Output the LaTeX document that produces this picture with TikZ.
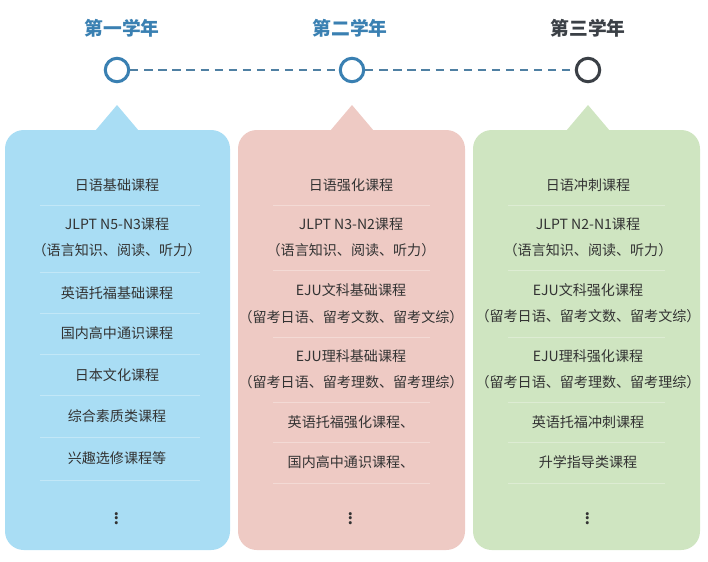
\documentclass[tikz,border=0pt]{standalone}
\usepackage{fontspec}
\setmainfont{Noto Sans CJK SC}
\usetikzlibrary{positioning}
\definecolor{yearblue}{HTML}{3A80B2}
\definecolor{yeardark}{HTML}{3B4046}
\definecolor{panelblue}{HTML}{A9DDF4}
\definecolor{panelpink}{HTML}{EECAC4}
\definecolor{panelgreen}{HTML}{CFE5C1}
\definecolor{itemtext}{HTML}{333333}

\begin{document}
\begin{tikzpicture}[x=0.03cm,y=-0.03cm]
			\tikzstyle{Year}	= [font=\fontsize{16}{18}\selectfont\bfseries, inner sep=0pt]
			\tikzstyle{Dot}		= [circle, draw, line width=2.6pt, fill=white, minimum size=20pt, inner sep=0pt]
			\tikzstyle{Item}	= [font=\fontsize{12}{14}\selectfont, text=itemtext, inner sep=0pt]
			\tikzstyle{More}	= [font=\fontsize{20}{22}\selectfont, text=itemtext, inner sep=0pt]
			\tikzstyle{Sep}		= [white, opacity=0.3, line width=0.6pt]

			\useasboundingbox (0,0) rectangle (708,561);

			% timeline
			\node (y1) at (122,28) [Year, text=yearblue] {第一学年};
			\node (y2) at (350,28) [Year, text=yearblue] {第二学年};
			\node (y3) at (588,28) [Year, text=yeardark] {第三学年};
			\node (c1) at (117,70) [Dot, draw=yearblue] {};
			\node (c2) at (352,70) [Dot, draw=yearblue] {};
			\node (c3) at (588,70) [Dot, draw=yeardark] {};
			\draw [dashed, yearblue!70!gray, line width=1.2pt, dash pattern=on 7pt off 5pt] (c1) -- (c2);
			\draw [dashed, yearblue!70!gray, line width=1.2pt, dash pattern=on 7pt off 5pt] (c2) -- (c3);

			% panels
			\fill [panelblue, rounded corners=16pt] (5,130) rectangle (230,550);
			\fill [panelblue] (95,131) -- (117,105) -- (139,131) -- cycle;
			\fill [panelpink, rounded corners=16pt] (238,130) rectangle (465,550);
			\fill [panelpink] (330,131) -- (352,105) -- (374,131) -- cycle;
			\fill [panelgreen, rounded corners=16pt] (473,130) rectangle (700,550);
			\fill [panelgreen] (566,131) -- (588,105) -- (610,131) -- cycle;

			% first year
			\foreach \y in {205,272,313,354,395,437,480} \draw [Sep] (40,\y) -- (200,\y);
			\node (a1) at (117,185) [Item] {日语基础课程};
			\node (a2) at (117,224) [Item] {JLPT N5-N3课程};
			\node (a3) at (117,250) [Item] {（语言知识、阅读、听力）};
			\node (a4) at (117,293) [Item] {英语托福基础课程};
			\node (a5) at (117,333) [Item] {国内高中通识课程};
			\node (a6) at (117,375) [Item] {日本文化课程};
			\node (a7) at (117,416) [Item] {综合素质类课程};
			\node (a8) at (117,458) [Item] {兴趣选修课程等};
			\node (a9) at (117,515) [More] {$\vdots$};

			% second year
			\foreach \y in {205,270,337,402,442,483} \draw [Sep] (273,\y) -- (430,\y);
			\node (b1) at (351,185) [Item] {日语强化课程};
			\node (b2) at (351,224) [Item] {JLPT N3-N2课程};
			\node (b3) at (351,250) [Item] {（语言知识、阅读、听力）};
			\node (b4) at (351,290) [Item] {EJU文科基础课程};
			\node (b5) at (351,317) [Item] {（留考日语、留考文数、留考文综）};
			\node (b6) at (351,356) [Item] {EJU理科基础课程};
			\node (b7) at (351,382) [Item] {（留考日语、留考理数、留考理综）};
			\node (b8) at (351,422) [Item] {英语托福强化课程、};
			\node (b9) at (351,462) [Item] {国内高中通识课程、};
			\node (b10) at (351,515) [More] {$\vdots$};

			% third year
			\foreach \y in {205,270,337,402,442,483} \draw [Sep] (508,\y) -- (665,\y);
			\node (g1) at (588,185) [Item] {日语冲刺课程};
			\node (g2) at (588,224) [Item] {JLPT N2-N1课程};
			\node (g3) at (588,250) [Item] {（语言知识、阅读、听力）};
			\node (g4) at (588,290) [Item] {EJU文科强化课程};
			\node (g5) at (588,316) [Item] {（留考日语、留考文数、留考文综）};
			\node (g6) at (588,356) [Item] {EJU理科强化课程};
			\node (g7) at (588,382) [Item] {（留考日语、留考理数、留考理综）};
			\node (g8) at (588,422) [Item] {英语托福冲刺课程};
			\node (g9) at (588,462) [Item] {升学指导类课程};
			\node (g10) at (588,515) [More] {$\vdots$};
		\end{tikzpicture}
\end{document}
